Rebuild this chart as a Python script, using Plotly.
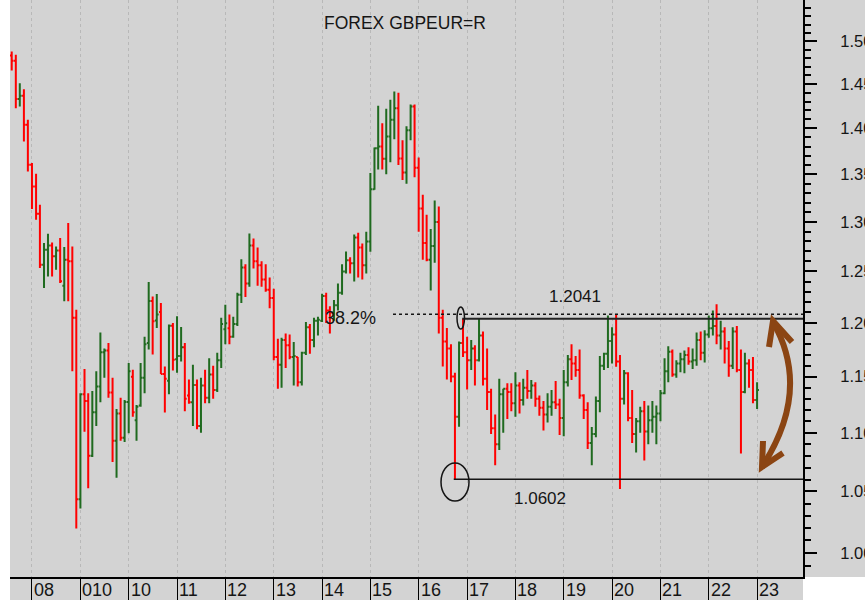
import numpy as np
import pandas as pd
import plotly.graph_objects as go

# ---------------- data (monthly GBPEUR bars, Aug 2007 .. Jan 2023) ----------------
months = pd.date_range("2007-08-01", periods=186, freq="MS")

opens = [1.4831,1.4772,1.4331,1.4368,1.4040,1.3602,1.3370,1.3084,1.2567,1.2717,1.2760,1.2650,1.2710,1.2360,1.2617,1.2600,1.2050,
         1.0435,1.1340,1.1280,1.0802,1.1180,1.1410,1.1725,1.1740,1.1356,1.0930,1.1170,1.0956,
         1.1272,1.1500,1.1110,1.1240,1.1490,1.1810,1.2210,1.2024,1.2105,1.1525,1.1463,1.1974,
         1.1660,1.1690,1.1770,1.1330,1.1270,1.1425,1.1060,1.1420,1.1310,1.1520,1.1380,1.1650,
         1.1940,1.1950,1.1870,1.1990,1.2270,1.2540,1.2380,1.2760,1.2600,1.2560,1.2420,1.2320,
         1.2240,1.1680,1.1610,1.1840,1.1790,1.1680,1.1680,1.1450,1.1720,1.1960,1.1840,1.2020,
         1.2020,1.2260,1.2120,1.2100,1.2170,1.2290,1.2500,1.2610,1.2580,1.2840,1.2740,1.2560,
         1.2800,1.3340,1.3780,1.3800,1.3668,1.3910,1.4095,1.4226,1.3670,1.3520,1.3980,1.4244,
         1.3570,1.3138,1.2785,1.2617,1.2754,1.2998,1.2050,1.1825,1.1760,1.1502,1.1141,1.1810,
         1.1725,1.1650,1.1760,1.1650,1.1880,1.1480,1.1360,1.1040,1.0900,1.1340,1.1390,1.1360,
         1.1260,1.1420,1.1290,1.1400,1.1370,1.1420,1.1300,1.1220,1.1160,1.1230,1.1270,1.1250,
         1.1130,1.1450,1.1660,1.1620,1.1560,1.1330,1.1200,1.0910,1.0990,1.1280,1.1600,1.1710,
         1.1830,1.1890,1.1640,1.1300,1.1530,1.1130,1.0990,1.1100,1.1190,1.1010,1.1110,1.1140,
         1.1170,1.1350,1.1550,1.1730,1.1520,1.1620,1.1660,1.1700,1.1640,1.1650,1.1840,1.1720,
         1.1890,1.1950,1.1970,1.1880,1.1920,1.1760,1.1600,1.1920,1.1560,1.1360,1.1620,1.1560,
         1.1290]
highs = [1.4878,1.4840,1.4510,1.4441,1.4095,1.3620,1.3506,1.3178,1.2785,1.2879,1.2790,1.2750,1.2835,1.2745,1.2988,1.2750,1.2127,
         1.1349,1.1570,1.1349,1.1370,1.1550,1.1910,1.1760,1.1810,1.1490,1.1210,1.1310,1.1290,
         1.1625,1.1564,1.1245,1.1625,1.1870,1.2395,1.2253,1.2279,1.2190,1.1594,1.1984,1.2000,
         1.2063,1.1962,1.1810,1.1473,1.1610,1.1473,1.1490,1.1564,1.1670,1.1600,1.1720,1.2050,
         1.2174,1.2080,1.2060,1.2290,1.2620,1.2570,1.2880,1.2830,1.2740,1.2600,1.2570,1.2440,
         1.2330,1.1850,1.1860,1.1900,1.1890,1.1820,1.1680,1.1730,1.2010,1.1990,1.2050,1.2060,
         1.2280,1.2290,1.2160,1.2220,1.2380,1.2570,1.2700,1.2640,1.2870,1.2890,1.2780,1.2900,
         1.3515,1.3790,1.4254,1.4057,1.4219,1.4321,1.4416,1.4400,1.3870,1.4024,1.4266,1.4266,
         1.3680,1.3284,1.3074,1.2927,1.3222,1.3160,1.2127,1.1952,1.1800,1.1535,1.1825,1.2041,
         1.1870,1.1840,1.1790,1.2037,1.1920,1.1760,1.1390,1.1160,1.1480,1.1390,1.1440,1.1440,
         1.1540,1.1450,1.1480,1.1560,1.1470,1.1450,1.1330,1.1280,1.1350,1.1380,1.1460,1.1300,
         1.1560,1.1700,1.1800,1.1690,1.1750,1.1340,1.1270,1.1050,1.1320,1.1690,1.1720,1.2070,
         1.1960,1.2080,1.1700,1.1560,1.1540,1.1380,1.1130,1.1230,1.1280,1.1240,1.1280,1.1240,
         1.1380,1.1670,1.1780,1.1750,1.1650,1.1720,1.1740,1.1770,1.1760,1.1910,1.1920,1.1930,
         1.2070,1.2120,1.2180,1.2020,1.1960,1.1830,1.1960,1.1970,1.1750,1.1720,1.1660,1.1680,
         1.1450]
lows = [1.4656,1.4226,1.4245,1.3855,1.3530,1.3133,1.3022,1.2534,1.2337,1.2450,1.2450,1.2517,1.2386,1.2207,1.2207,1.1550,1.0197,
        1.0360,1.1009,1.0526,1.0790,1.1060,1.1270,1.1490,1.1310,1.0748,1.0615,1.0930,1.0920,
        1.0995,1.1140,1.0930,1.1230,1.1350,1.1750,1.1703,1.1952,1.1525,1.1177,1.1340,1.1557,
        1.1535,1.1640,1.1190,1.1255,1.1060,1.1030,1.1000,1.1260,1.1260,1.1300,1.1360,1.1580,
        1.1800,1.1800,1.1860,1.1970,1.2190,1.2250,1.2350,1.2530,1.2360,1.2350,1.2300,1.2140,
        1.1650,1.1390,1.1400,1.1580,1.1660,1.1420,1.1410,1.1420,1.1700,1.1710,1.1770,1.1880,
        1.2010,1.2000,1.1900,1.2020,1.2120,1.2270,1.2480,1.2480,1.2400,1.2440,1.2420,1.2480,
        1.2697,1.3335,1.3550,1.3550,1.3500,1.3630,1.3880,1.3600,1.3440,1.3400,1.3870,1.3467,
        1.2900,1.2617,1.2600,1.2313,1.2585,1.1900,1.1594,1.1473,1.1450,1.0602,1.1052,1.1680,
        1.1383,1.1560,1.1420,1.1640,1.1420,1.1200,1.0990,1.0720,1.0850,1.1000,1.1120,1.1190,
        1.1140,1.1170,1.1240,1.1300,1.1300,1.1230,1.1150,1.1020,1.1090,1.1150,1.1210,1.0980,
        1.0970,1.1410,1.1470,1.1500,1.1300,1.1120,1.0860,1.0720,1.0960,1.1180,1.1560,1.1580,
        1.1620,1.1590,1.0520,1.1250,1.1100,1.0910,1.0830,1.1000,1.0760,1.0900,1.1000,1.0900,
        1.1100,1.1340,1.1450,1.1500,1.1490,1.1540,1.1530,1.1610,1.1570,1.1600,1.1650,1.1630,
        1.1860,1.1880,1.1800,1.1750,1.1620,1.1500,1.1570,1.1540,1.0820,1.1350,1.1400,1.1260,
        1.1210]
closes = [1.4772,1.4331,1.4368,1.4040,1.3602,1.3370,1.3084,1.2567,1.2717,1.2760,1.2650,1.2710,1.2402,1.2617,1.2600,1.2050,1.0435,
          1.1340,1.1280,1.0802,1.1180,1.1410,1.1725,1.1740,1.1356,1.0930,1.1170,1.0956,1.1272,
          1.1550,1.1180,1.1230,1.1490,1.1800,1.2210,1.2015,1.2080,1.1525,1.1480,1.1974,1.1656,
          1.1690,1.1770,1.1300,1.1270,1.1425,1.1060,1.1420,1.1310,1.1520,1.1380,1.1650,1.1990,
          1.1996,1.1870,1.1990,1.2270,1.2540,1.2380,1.2760,1.2600,1.2560,1.2420,1.2320,1.2240,
          1.1680,1.1610,1.1840,1.1790,1.1680,1.1690,1.1450,1.1720,1.1960,1.1840,1.2020,1.2030,
          1.2260,1.2120,1.2100,1.2170,1.2290,1.2500,1.2610,1.2580,1.2840,1.2740,1.2560,1.2800,
          1.3340,1.3780,1.3800,1.3668,1.3910,1.4095,1.4226,1.3670,1.3520,1.3980,1.4244,1.3570,
          1.3138,1.2785,1.2617,1.2754,1.2998,1.2050,1.1825,1.1760,1.1502,1.1141,1.1810,1.1725,
          1.1650,1.1760,1.1650,1.1880,1.1480,1.1360,1.1040,1.0900,1.1340,1.1390,1.1360,1.1260,
          1.1420,1.1290,1.1400,1.1370,1.1420,1.1300,1.1220,1.1160,1.1230,1.1270,1.1250,1.1130,
          1.1450,1.1660,1.1620,1.1560,1.1330,1.1200,1.0910,1.0990,1.1280,1.1600,1.1710,1.1830,
          1.1890,1.1640,1.1300,1.1530,1.1130,1.0990,1.1100,1.1190,1.1010,1.1110,1.1140,1.1170,
          1.1350,1.1550,1.1730,1.1520,1.1620,1.1660,1.1700,1.1640,1.1650,1.1840,1.1720,1.1890,
          1.1950,1.1970,1.1880,1.1920,1.1760,1.1600,1.1920,1.1560,1.1360,1.1620,1.1560,1.1290,
          1.1380]

year_ticks = [f"{y}-01-01" for y in range(2008, 2024)]
year_labels = ["08", "010", "10", "11", "12", "13", "14", "15", "16",
               "17", "18", "19", "20", "21", "22", "23"]

y_major = [1.00, 1.05, 1.10, 1.15, 1.20, 1.25, 1.30, 1.35, 1.40, 1.45, 1.50]
y_labels = ["1.00", "1.05", "1.10", "1.15", "1.20", "1.25", "1.30", "1.35", "1.40", "1.45", "1.50"]
y_minor = [round(0.99 + 0.01 * k, 2) for k in range(0, 56)]

title_text = "FOREX GBPEUR=R"
resistance = 1.2041
support = 1.0602
fib_level = 1.2082
fib_label = "38.2%"
support_start = "2016-09-22"
resistance_start = "2016-11-25"

# ---------------- geometry helpers ----------------
PLOT_L, PLOT_R, PLOT_T, PLOT_B = 10, 803, 0, 577
W, H = 865, 600


def px(xp):
    return (xp - PLOT_L) / (PLOT_R - PLOT_L)


def py(yp):
    return (PLOT_B - yp) / (PLOT_B - PLOT_T)


BG = "#d3d3d3"
INK = "#151515"
BROWN = "#8B4513"

fig = go.Figure()
fig.add_trace(go.Ohlc(
    x=months, open=opens, high=highs, low=lows, close=closes,
    increasing=dict(line=dict(color="#1f6a1f", width=2)),
    decreasing=dict(line=dict(color="#ff0000", width=2)),
    tickwidth=0.5, hoverinfo="skip", showlegend=False,
))

shapes = []
shapes.append(dict(type="rect", xref="paper", yref="paper", x0=1, x1=px(W), y0=0, y1=1,
                   fillcolor=BG, line=dict(width=0), layer="below"))
shapes.append(dict(type="rect", xref="paper", yref="paper", x0=0, x1=1, y0=py(H), y1=0,
                   fillcolor=BG, line=dict(width=0), layer="below"))
shapes.append(dict(type="line", xref="paper", yref="y", x0=px(393), x1=1, y0=fib_level, y1=fib_level,
                   line=dict(color=INK, width=1.5, dash="dot")))
shapes.append(dict(type="line", xref="x", yref="y", x0=resistance_start, x1="2023-12-14",
                   y0=resistance, y1=resistance, line=dict(color="#222222", width=2)))
shapes.append(dict(type="line", xref="x", yref="y", x0=support_start, x1="2023-12-14", y0=support, y1=support,
                   line=dict(color=INK, width=1.5)))
# ellipses marking the low and the first touch of resistance
shapes.append(dict(type="circle", xref="paper", yref="paper",
                   x0=px(441), x1=px(469), y0=py(501), y1=py(463),
                   line=dict(color=INK, width=1.5)))
shapes.append(dict(type="circle", xref="paper", yref="paper",
                   x0=px(457), x1=px(464.5), y0=py(329), y1=py(307),
                   line=dict(color=INK, width=1.5)))
# brown double-headed arrow
p0 = (773, 322); c = (812, 390); p1 = (762, 467)
shapes.append(dict(type="path", xref="paper", yref="paper",
                   path=f"M {px(p0[0])},{py(p0[1])} Q {px(c[0])},{py(c[1])} {px(p1[0])},{py(p1[1])}",
                   line=dict(color=BROWN, width=6)))
for a, tip, b in [((769, 347), (773, 321), (792, 342)), ((763, 441), (762, 467), (783, 453))]:
    shapes.append(dict(type="path", xref="paper", yref="paper",
                       path=f"M {px(a[0])},{py(a[1])} L {px(tip[0])},{py(tip[1])} L {px(b[0])},{py(b[1])}",
                       line=dict(color=BROWN, width=6)))

annotations = []
FONT = "Liberation Sans, Arial, sans-serif"
annotations.append(dict(text=title_text, xref="paper", yref="paper", x=px(404.5), y=py(23),
                        xanchor="center", yanchor="middle", showarrow=False,
                        font=dict(family=FONT, size=17.5, color=INK)))
annotations.append(dict(text=fib_label, xref="paper", yref="y", x=px(378), y=np.log10(fib_level),
                        xanchor="right", yanchor="middle", yshift=-4, showarrow=False,
                        font=dict(family=FONT, size=18, color=INK)))
annotations.append(dict(text=f"{resistance:.4f}", xref="paper", yref="y", x=px(575), y=np.log10(resistance),
                        xanchor="center", yanchor="middle", yshift=22, showarrow=False,
                        font=dict(family=FONT, size=17, color=INK)))
annotations.append(dict(text=f"{support:.4f}", xref="paper", yref="y", x=px(539.5), y=np.log10(support),
                        xanchor="center", yanchor="middle", yshift=-19, showarrow=False,
                        font=dict(family=FONT, size=17, color=INK)))
for d, lab in zip(year_ticks, year_labels):
    annotations.append(dict(text=lab, xref="x", yref="paper", x=d, y=py(590), xanchor="left",
                            yanchor="middle", showarrow=False, xshift=0,
                            font=dict(family=FONT, size=18, color=INK)))

fig.update_layout(
    width=W, height=H,
    margin=dict(l=PLOT_L, r=W - PLOT_R, t=PLOT_T, b=H - PLOT_B, pad=0, autoexpand=False),
    paper_bgcolor="white", plot_bgcolor=BG,
    font=dict(family=FONT, color=INK),
    showlegend=False,
    shapes=shapes, annotations=annotations,
    xaxis=dict(type="date", range=["2007-07-19", "2023-12-14"], tickmode="array", tickvals=year_ticks,
               showticklabels=False, ticks="outside", ticklen=23, tickwidth=1, tickcolor="#000",
               showgrid=True, gridcolor="#b8b8b8", griddash="dot", gridwidth=1,
               showline=True, linecolor="#000", linewidth=2, zeroline=False, automargin=False,
               rangeslider=dict(visible=False), fixedrange=True),
    yaxis=dict(type="log", side="right", range=[np.log10(0.9812), np.log10(1.5499)],
               tickmode="array", tickvals=y_major, ticktext=y_labels,
               ticks="outside", ticklen=12, tickwidth=2, tickcolor="#000",
               showline=True, linecolor="#000", linewidth=2, showgrid=False, zeroline=False,
               automargin=False,
               tickfont=dict(family=FONT, size=16.5, color=INK), ticklabelstandoff=20,
               minor=dict(tickmode="array", tickvals=y_minor, ticks="outside", ticklen=6,
                          tickwidth=2, tickcolor="#000", showgrid=False),
               fixedrange=True),
)

fig.write_html("out.html", config={"displayModeBar": False},
               post_script="document.body.style.margin='0';document.body.style.overflow='hidden';")
